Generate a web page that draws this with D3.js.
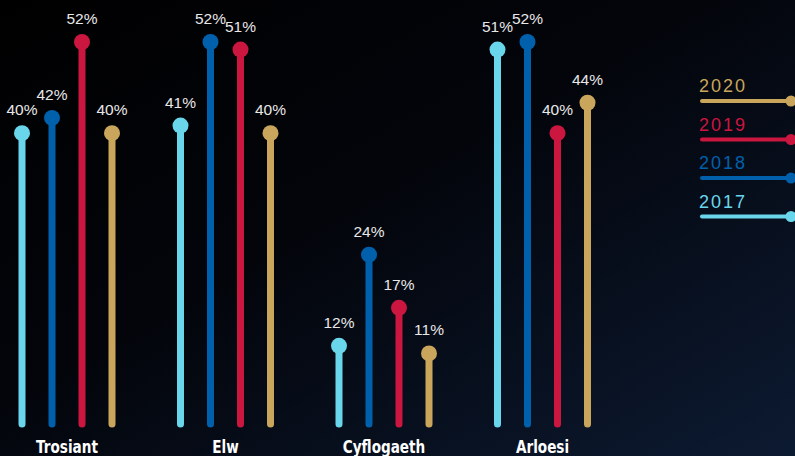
<!DOCTYPE html>
<html>
<head>
<meta charset="utf-8">
<script src="https://cdn.jsdelivr.net/npm/d3@7"></script>
<style>
  body { margin: 0; background: #000; }
  svg { display: block; }
</style>
</head>
<body>
<script>
// chart data
var categories = ['Trosiant', 'Elw', 'Cyflogaeth', 'Arloesi'];
var years = ['2017', '2018', '2019', '2020'];
var values2017 = [40, 41, 12, 51];
var values2018 = [42, 52, 24, 52];
var values2019 = [52, 51, 17, 40];
var values2020 = [40, 40, 11, 44];
var legendOrder = ['2020', '2019', '2018', '2017'];

var colors = {
    '2017': '#6ad6ec',
    '2018': '#0060ab',
    '2019': '#cb1640',
    '2020': '#c9a65c'
};

var series = {
    '2017': values2017,
    '2018': values2018,
    '2019': values2019,
    '2020': values2020
};

var width = 795;
var height = 456;

var svg = d3.select('body')
    .append('svg')
    .attr('width', width)
    .attr('height', height);

// background gradient
var defs = svg.append('defs');
var grad = defs.append('linearGradient')
    .attr('id', 'bg')
    .attr('x1', '0%').attr('y1', '0%')
    .attr('x2', '100%').attr('y2', '100%');
grad.append('stop').attr('offset', '0%').attr('stop-color', '#000000');
grad.append('stop').attr('offset', '45%').attr('stop-color', '#03050b');
grad.append('stop').attr('offset', '100%').attr('stop-color', '#0c1a31');

svg.append('rect')
    .attr('width', width)
    .attr('height', height)
    .attr('fill', 'url(#bg)');

var x = d3.scalePoint()
    .domain(categories)
    .range([67, 542.5]);

var xInner = d3.scalePoint()
    .domain(years)
    .range([-45, 45]);

var y = d3.scaleLinear()
    .domain([0, 52])
    .range([437, 42]);

var stemBottom = 424;

// flatten into points
var points = [];
categories.forEach(function(c, i) {
    years.forEach(function(yr) {
        points.push({ cat: c, year: yr, value: series[yr][i] });
    });
});

var g = svg.append('g');

var pt = g.selectAll('g.pt')
    .data(points)
    .enter()
    .append('g')
    .attr('class', 'pt')
    .attr('transform', function(d) { return 'translate(' + (x(d.cat) + xInner(d.year)) + ',0)'; });

pt.append('line')
    .attr('x1', 0).attr('x2', 0)
    .attr('y1', function(d) { return y(d.value); })
    .attr('y2', stemBottom)
    .attr('stroke', function(d) { return colors[d.year]; })
    .attr('stroke-width', 7)
    .attr('stroke-linecap', 'round');

pt.append('circle')
    .attr('cy', function(d) { return y(d.value); })
    .attr('r', 8)
    .attr('fill', function(d) { return colors[d.year]; });

pt.append('text')
    .attr('y', function(d) { return y(d.value) - 18; })
    .attr('text-anchor', 'middle')
    .style('font-family', '"Liberation Sans", Arial, sans-serif')
    .style('font-size', '15.5px')
    .attr('fill', '#e8e8e8')
    .text(function(d) { return d.value + '%'; });

// category labels (condensed bold)
g.selectAll('text.cat')
    .data(categories)
    .enter()
    .append('text')
    .attr('class', 'cat')
    .attr('transform', function(d) { return 'translate(' + x(d) + ',453) scale(0.8,1)'; })
    .attr('text-anchor', 'middle')
    .style('font-family', '"DejaVu Sans", sans-serif')
    .style('font-weight', 'bold')
    .style('font-size', '17px')
    .attr('fill', '#ffffff')
    .text(function(d) { return d; });

// legend
var legend = svg.append('g');
var leg = legend.selectAll('g')
    .data(legendOrder)
    .enter()
    .append('g')
    .attr('transform', function(d, i) { return 'translate(0,' + (101 + i * 38.5) + ')'; });

leg.append('text')
    .attr('x', 699)
    .attr('y', -9)
    .style('font-family', '"Liberation Sans", Arial, sans-serif')
    .style('font-size', '18px')
    .style('letter-spacing', '2px')
    .attr('fill', function(d) { return colors[d]; })
    .text(function(d) { return d; });

leg.append('line')
    .attr('x1', 702).attr('x2', 791)
    .attr('stroke', function(d) { return colors[d]; })
    .attr('stroke-width', 4)
    .attr('stroke-linecap', 'round');

leg.append('circle')
    .attr('cx', 791)
    .attr('r', 5.5)
    .attr('fill', function(d) { return colors[d]; });
</script>
</body>
</html>
